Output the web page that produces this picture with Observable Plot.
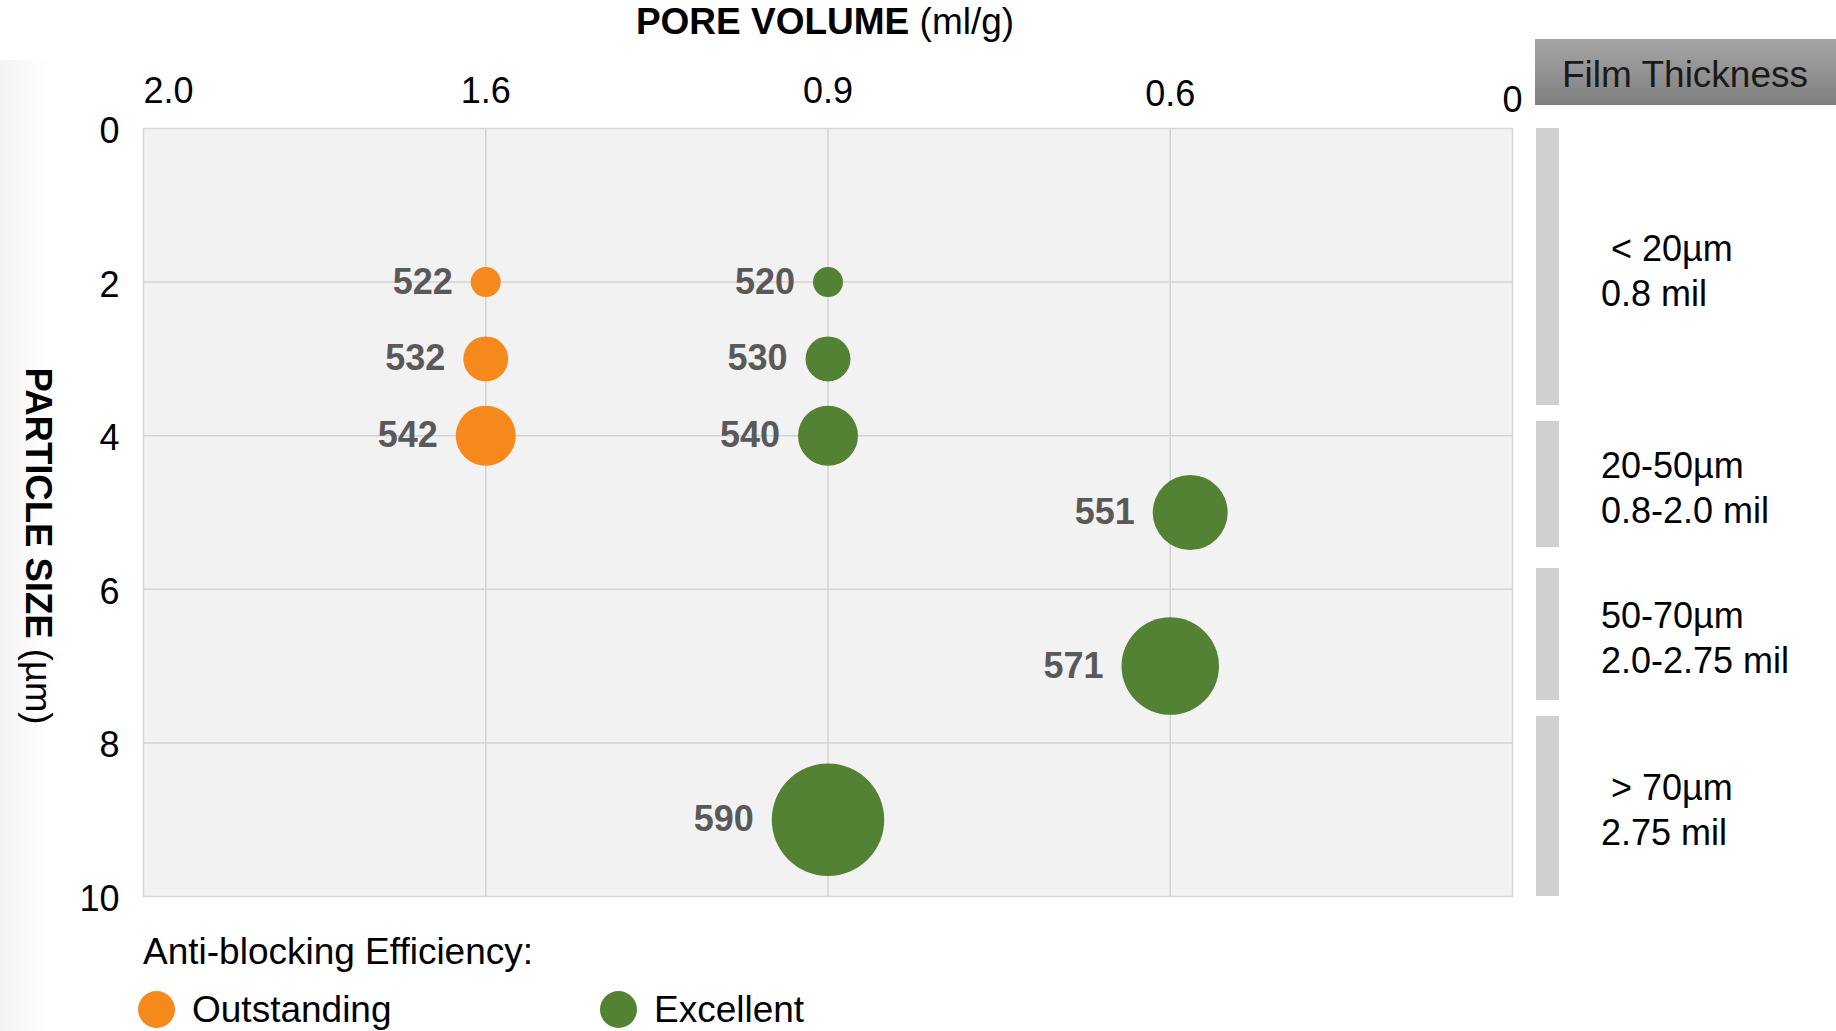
<!DOCTYPE html>
<html>
<head>
<meta charset="utf-8">
<script src="https://cdn.jsdelivr.net/npm/d3@7"></script>
<script src="https://cdn.jsdelivr.net/npm/@observablehq/plot@0.6"></script>
<style>
html, body { margin: 0; padding: 0; background: #fff; }
body { width: 1836px; height: 1031px; overflow: hidden; font-family: "Liberation Sans", Arial, sans-serif; color: #000; }
#wrap { position: relative; width: 1836px; height: 1031px; }
#wrap svg { position: absolute; left: 0; top: 0; }
.abs { position: absolute; white-space: nowrap; }
</style>
</head>
<body>
<div id="wrap"></div>
<script>
// ---- data ----
const grades = ["522", "532", "542", "520", "530", "540", "551", "571", "590"];
const efficiency = ["Outstanding", "Outstanding", "Outstanding", "Excellent", "Excellent", "Excellent", "Excellent", "Excellent", "Excellent"];
const poreVolume = [1.6, 1.6, 1.6, 0.9, 0.9, 0.9, 0.565, 0.6, 0.9];
const particleSize = [2, 3, 4, 2, 3, 4, 5, 7, 9];
const bubbleSize = [2, 3, 4, 2, 3, 4, 5, 6.5, 7.5];

const xTickValues = [2.0, 1.6, 0.9, 0.6, 0];
const xTickLabels = ["2.0", "1.6", "0.9", "0.6", "0"];
const yTickValues = [0, 2, 4, 6, 8, 10];

const legendTitle = "Anti-blocking Efficiency:";
const legendKeys = ["Outstanding", "Excellent"];
const legendColors = ["#f5891c", "#548235"];

const filmTitle = "Film Thickness";
const filmBandFrom = [0, 3.82, 5.73, 7.66];
const filmBandTo = [3.61, 5.46, 7.45, 10];
const filmLine1 = ["\u00a0< 20µm", "20-50µm", "50-70µm", "\u00a0> 70µm"];
const filmLine2 = ["0.8 mil", "0.8-2.0 mil", "2.0-2.75 mil", "2.75 mil"];

// pore-volume axis is evenly spaced between its labelled ticks (piecewise)
const pvPos = d3.scaleLinear(xTickValues, d3.range(xTickValues.length));

const data = grades.map((g, i) => ({
  grade: g, eff: efficiency[i], pos: pvPos(poreVolume[i]), ps: particleSize[i], size: bubbleSize[i]
}));
const xTicks = xTickValues.map((v, i) => ({ pos: pvPos(v), label: xTickLabels[i] }));

// ---- layout ----
const W = 1836, H = 1031;
const mL = 143, mR = 324, mT = 128, mB = 135;
const rDomain = [0, 7.5], rRange = [0, 56.25];
const rScale = d3.scaleLinear(rDomain, rRange);
const font = "'Liberation Sans', Arial, sans-serif";
const gridColor = "#d3d3d3";

const labelMarks = data.map(d => Plot.text([d], {
  x: "pos", y: "ps", text: "grade",
  textAnchor: "end", dx: -(rScale(d.size) + 18),
  fontWeight: "bold", fill: "#595959", fontSize: 36
}));

const chart = Plot.plot({
  width: W, height: H,
  marginLeft: mL, marginRight: mR, marginTop: mT, marginBottom: mB,
  style: { fontFamily: font, fontSize: "36px", color: "#000", background: "transparent", overflow: "visible" },
  x: { domain: [0, xTickValues.length - 1], axis: null },
  y: { domain: [0, 10], reverse: true, axis: null },
  r: { type: "linear", domain: rDomain, range: rRange },
  color: { domain: legendKeys, range: legendColors },
  marks: [
    Plot.frame({ fill: "#f2f2f2", stroke: "#d9d9d9", strokeWidth: 1.5 }),
    Plot.gridX(xTicks.slice(1, -1).map(t => t.pos), { stroke: gridColor, strokeOpacity: 1, strokeWidth: 1.5 }),
    Plot.gridY(yTickValues.slice(1, -1), { stroke: gridColor, strokeOpacity: 1, strokeWidth: 1.5 }),
    Plot.axisY(yTickValues, { tickSize: 0, tickPadding: 24, dy: 3, label: null, tickFormat: d => String(d), fontSize: 36, fill: "#000" }),
    Plot.text(xTicks.slice(1, -2), {
      x: "pos", text: "label", frameAnchor: "top", lineAnchor: "middle", dy: -37, fontSize: 36, fill: "#000"
    }),
    Plot.text(xTicks.slice(-2, -1), {
      x: "pos", text: "label", frameAnchor: "top", lineAnchor: "middle", dy: -34, fontSize: 36, fill: "#000"
    }),
    Plot.text(xTicks.slice(0, 1), {
      x: "pos", text: "label", frameAnchor: "top", lineAnchor: "middle", dy: -37, textAnchor: "start", fontSize: 36, fill: "#000"
    }),
    Plot.text(xTicks.slice(-1), {
      x: "pos", text: "label", frameAnchor: "top", lineAnchor: "middle", dy: -28, fontSize: 36, fill: "#000"
    }),
    Plot.dot(data, { x: "pos", y: "ps", r: "size", fill: "eff", stroke: "none" }),
    ...labelMarks
  ]
});

const wrap = document.getElementById("wrap");

// faint shadow strip on the far left
const strip = document.createElement("div");
strip.className = "abs";
strip.style.cssText = "left:0;top:60px;width:48px;height:971px;background:linear-gradient(to right,#f3f3f3,#ffffff);";
wrap.appendChild(strip);

wrap.appendChild(chart);

function addDiv(html, css) {
  const d = document.createElement("div");
  d.className = "abs";
  d.innerHTML = html;
  d.style.cssText += css;
  wrap.appendChild(d);
  return d;
}

// title (top)
addDiv("<b>PORE VOLUME</b> (ml/g)",
  `left:825px;top:21px;transform:translate(-50%,-50%);font-size:37px;line-height:1;`);

// y axis title (rotated)
addDiv("<b>PARTICLE SIZE</b> (µm)",
  `left:38px;top:546px;transform:translate(-50%,-50%) rotate(90deg);font-size:36.5px;line-height:1;`);

// legend
addDiv(legendTitle, `left:143px;top:951px;transform:translateY(-50%);font-size:37px;line-height:1;`);
const legendX = [156, 618];
legendKeys.forEach((k, i) => {
  addDiv("", `left:${legendX[i] - 18.5}px;top:${1009 - 18.5}px;width:37px;height:37px;border-radius:50%;background:${legendColors[i]};`);
  addDiv(k, `left:${legendX[i] + 36}px;top:1009px;transform:translateY(-50%);font-size:37px;line-height:1;`);
});

// film thickness panel
addDiv(filmTitle,
  `left:1535px;top:39px;width:301px;height:66px;box-sizing:border-box;padding-left:27px;padding-top:3px;line-height:66px;font-size:37px;color:#1a1a1a;background:linear-gradient(#a6a6a6,#7f7f7f);`);
const ys = chart.scale("y");
filmBandFrom.forEach((v, i) => {
  const a = ys.apply(v), b = ys.apply(filmBandTo[i]);
  const y1 = Math.min(a, b), y2 = Math.max(a, b);
  addDiv("", `left:1536px;top:${y1}px;width:23px;height:${y2 - y1}px;background:#d0d0d0;`);
  const mid = (y1 + y2) / 2 + 4;
  addDiv(filmLine1[i] + "<br>" + filmLine2[i],
    `left:1601px;top:${mid}px;transform:translateY(-50%);font-size:36px;line-height:45px;`);
});
</script>
</body>
</html>
